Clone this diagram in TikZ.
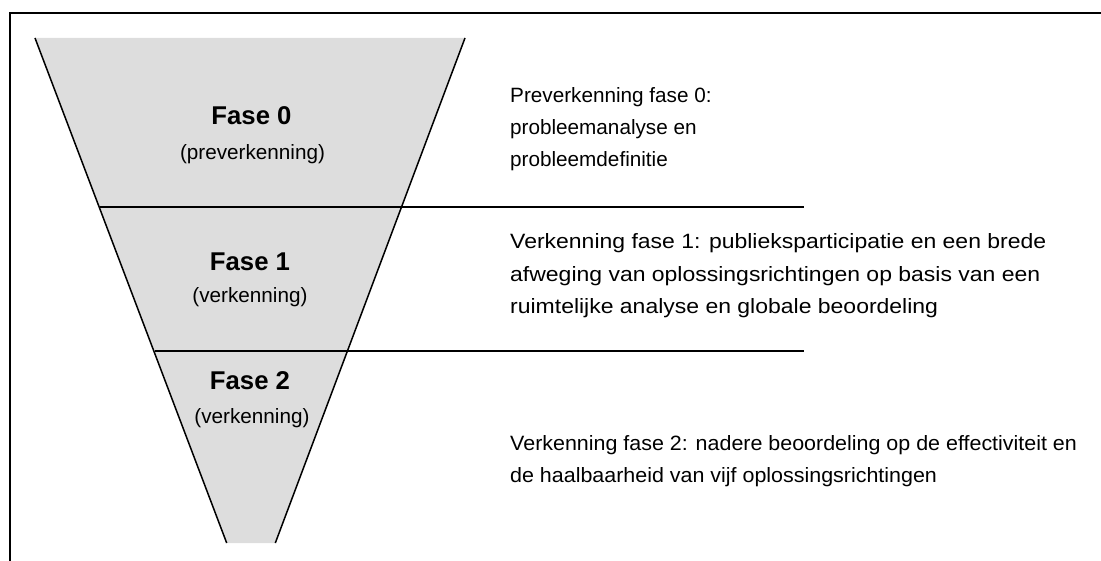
\documentclass[tikz,border=0pt]{standalone}
\usepackage{fontspec}
\setmainfont{Liberation Sans}
\newfontfamily\widefontB[FakeStretch=1.11]{Liberation Sans}
\newfontfamily\widefontC[FakeStretch=1.036]{Liberation Sans}
\definecolor{funnelgray}{HTML}{DDDDDD}
\tikzset{
  frameline/.style={line width=2pt, black},
  edgeline/.style={line width=1.5pt, black},
  phasetitle/.style={font=\fontsize{25.7}{30}\selectfont\bfseries, inner sep=0pt, anchor=base},
  phasesub/.style={font=\fontsize{20.7}{30}\selectfont, inner sep=0pt, anchor=base},
  desc/.style={font=\fontsize{20.7}{32}\selectfont, inner sep=0pt, anchor=base west},
  descB/.style={desc, font=\fontsize{20.7}{32}\selectfont\widefontB},
  descC/.style={desc, font=\fontsize{20.7}{32}\selectfont\widefontC}
}
\begin{document}
\begin{tikzpicture}[x=1pt,y=-1pt]
\useasboundingbox (0,0) rectangle (1101,561);
% funnel
\coordinate (tl) at (35,38);
\coordinate (tr) at (465,38);
\coordinate (br) at (275.3,543);
\coordinate (bl) at (226.7,543);
\fill[funnelgray] (tl) -- (tr) -- (br) -- (bl) -- cycle;
\draw[edgeline] (tl) -- (bl);
\draw[edgeline] (tr) -- (br);
% separators
\coordinate (s1a) at (100,207);
\coordinate (s1b) at (804,207);
\coordinate (s2a) at (155,351);
\coordinate (s2b) at (804,351);
\draw[edgeline] (s1a) -- (s1b);
\draw[edgeline] (s2a) -- (s2b);
% frame
\coordinate (f0) at (9.5,561);
\coordinate (f1) at (9.5,13.5);
\coordinate (f2) at (1101,13.5);
\draw[frameline] (f0) -- (f1) -- (f2);
% phase labels
\node[phasetitle] (t0) at (251.5,125) {Fase 0};
\node[phasesub] (p0) at (252.5,159.5) {(preverkenning)};
\node[phasetitle] (t1) at (250,271) {Fase 1};
\node[phasesub] (p1) at (250,303) {(verkenning)};
\node[phasetitle] (t2) at (250,390) {Fase 2};
\node[phasesub] (p2) at (252,423) {(verkenning)};
% descriptions
\node[desc] (d0a) at (510,103) {Preverkenning fase 0:};
\node[desc] (d0b) at (510,135) {probleemanalyse en};
\node[desc] (d0c) at (510,167) {probleemdefinitie};
\node[descB] (d1a) at (510,249) {Verkenning fase 1: publieksparticipatie en een brede};
\node[descB] (d1b) at (510,281.5) {afweging van oplossingsrichtingen op basis van een};
\node[descB] (d1c) at (510,314) {ruimtelijke analyse en globale beoordeling};
\node[descC] (d2a) at (510,450) {Verkenning fase 2: nadere beoordeling op de effectiviteit en};
\node[descC] (d2b) at (510,482) {de haalbaarheid van vijf oplossingsrichtingen};
\end{tikzpicture}
\end{document}
